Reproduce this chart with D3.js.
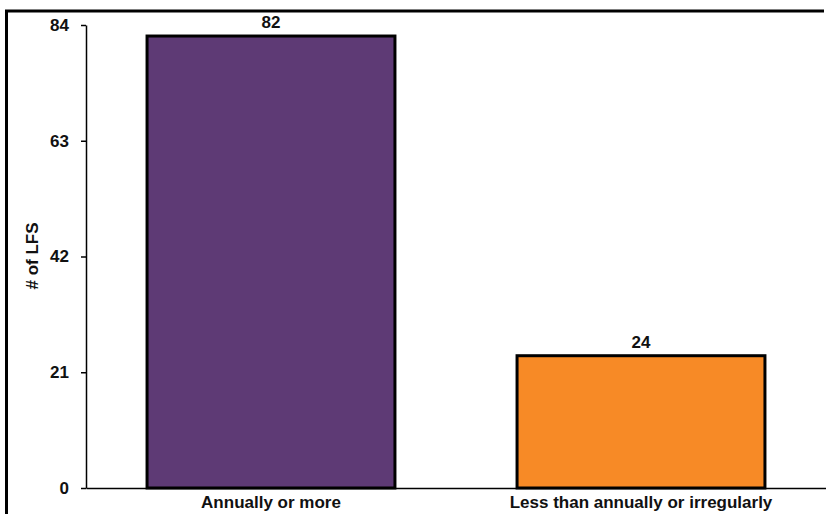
<!DOCTYPE html>
<html><head><meta charset="utf-8">
<script src="https://cdn.jsdelivr.net/npm/d3@7"></script>
<style>html,body{margin:0;background:#fff;overflow:hidden}svg{display:block}</style>
</head><body>
<svg id="c" width="826" height="514"></svg>
<script>
const categories = ["Annually or more", "Less than annually or irregularly"];
const values = [82, 24];
const colors = ["#5E3A75", "#F78A26"];
const yTicks = [0, 21, 42, 63, 84];
const yTitle = "# of LFS";

const svg = d3.select("#c");
const font = "'Liberation Sans', Arial, sans-serif";
const fs = 17;

// frame (left and top edges visible)
svg.append("path").attr("d", "M6.5,514V11H824")
  .attr("fill", "none").attr("stroke", "#000").attr("stroke-width", 3);

const x = d3.scaleBand().domain(categories).range([86, 826]).paddingInner(0.33).paddingOuter(0.165);
const y = d3.scaleLinear().domain([0, 84]).range([488, 25]);

// bars
svg.selectAll("rect.bar").data(values).enter().append("rect").attr("class", "bar")
  .attr("x", (d, i) => x(categories[i]))
  .attr("y", d => y(d))
  .attr("width", x.bandwidth())
  .attr("height", d => y(0) - y(d))
  .attr("fill", (d, i) => colors[i])
  .attr("stroke", "#000").attr("stroke-width", 3);

// y axis
const ya = svg.append("g").attr("transform", "translate(86,0)")
  .call(d3.axisLeft(y).tickValues(yTicks).tickSize(5).tickPadding(12).tickSizeOuter(0));
ya.attr("font-size", null).attr("font-family", null);
ya.select(".domain").attr("stroke", "#000").attr("stroke-width", 1.5);
ya.selectAll(".tick line").attr("stroke", "#000").attr("stroke-width", 1.5);
ya.selectAll("text").style("font-family", font).style("font-size", fs + "px").style("font-weight", "bold").attr("fill", "#111");

// x axis
const xa = svg.append("g").attr("transform", "translate(0,488)")
  .call(d3.axisBottom(x).tickSize(0).tickPadding(8).tickSizeOuter(0));
xa.attr("font-size", null).attr("font-family", null);
xa.select(".domain").attr("stroke", "#000").attr("stroke-width", 1.5);
xa.selectAll("text").style("font-family", font).style("font-size", fs + "px").style("font-weight", "bold").attr("fill", "#111");

// value labels
svg.selectAll("text.val").data(values).enter().append("text").attr("class", "val")
  .attr("x", (d, i) => x(categories[i]) + x.bandwidth() / 2)
  .attr("y", d => y(d) - 8)
  .attr("text-anchor", "middle")
  .style("font-family", font).style("font-size", fs + "px").style("font-weight", "bold").attr("fill", "#111")
  .text(d => d);

// y title
svg.append("text").attr("transform", "translate(38,256) rotate(-90)")
  .attr("text-anchor", "middle")
  .style("font-family", font).style("font-size", fs + "px").style("font-weight", "bold").attr("fill", "#111")
  .text(yTitle);
</script>
</body></html>
